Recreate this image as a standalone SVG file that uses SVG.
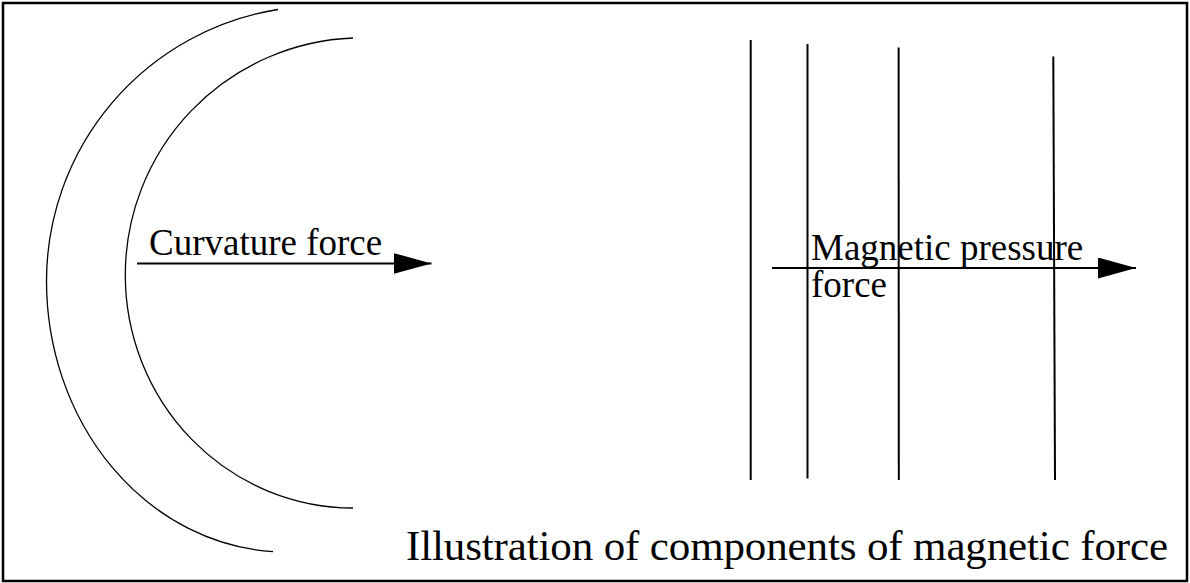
<svg xmlns="http://www.w3.org/2000/svg" width="1190" height="583" viewBox="0 0 1190 583">
<defs>
<style>
.frame{fill:#fff;stroke:#000;stroke-width:2.5}
.curve{fill:none;stroke:#000;stroke-width:1.3}
.vline{fill:none;stroke:#000;stroke-width:2}
.arrow{fill:none;stroke:#000;stroke-width:2}
.lbl{font-family:"Liberation Serif","Times New Roman",serif;fill:#000}
</style>
<marker id="ah" markerUnits="userSpaceOnUse" markerWidth="38" markerHeight="21" refX="38" refY="10.5" orient="auto">
<path d="M0,0 L38,10.5 L0,21 Z" fill="#000"/>
</marker>
</defs>
<rect class="frame" x="3" y="3" width="1184" height="578"/>
<g id="curved-field">
<path id="outer-arc" class="curve" d="M278,9.5 A275,275 0 0 0 46.5,281 A240,271 0 0 0 273,551.6"/>
<path id="inner-arc" class="curve" d="M353,38 A237,237 0 0 0 125.3,275 A228,233 0 0 0 353,508"/>
</g>
<g id="straight-field">
<line class="vline" x1="750.7" y1="40" x2="750.7" y2="480"/>
<line class="vline" x1="807.5" y1="44" x2="807.5" y2="478.5"/>
<line class="vline" x1="898.6" y1="47.5" x2="898.8" y2="480"/>
<line class="vline" x1="1053.3" y1="56.5" x2="1055" y2="480"/>
</g>
<g id="connectors">
<line id="curvature-arrow" class="arrow" x1="137" y1="263.5" x2="431.5" y2="263.5" marker-end="url(#ah)"/>
<line id="pressure-arrow" class="arrow" x1="772" y1="268" x2="1136" y2="268" marker-end="url(#ah)"/>
</g>
<g id="label-curvature">
<text class="lbl" x="149" y="255" font-size="37">Curvature force</text>
</g>
<g id="label-pressure">
<text class="lbl" x="811" y="260" font-size="37">Magnetic pressure</text>
<text class="lbl" x="811" y="297" font-size="37">force</text>
</g>
<g id="title">
<text class="lbl" x="406" y="560" font-size="43" textLength="762">Illustration of components of magnetic force</text>
</g>
</svg>
